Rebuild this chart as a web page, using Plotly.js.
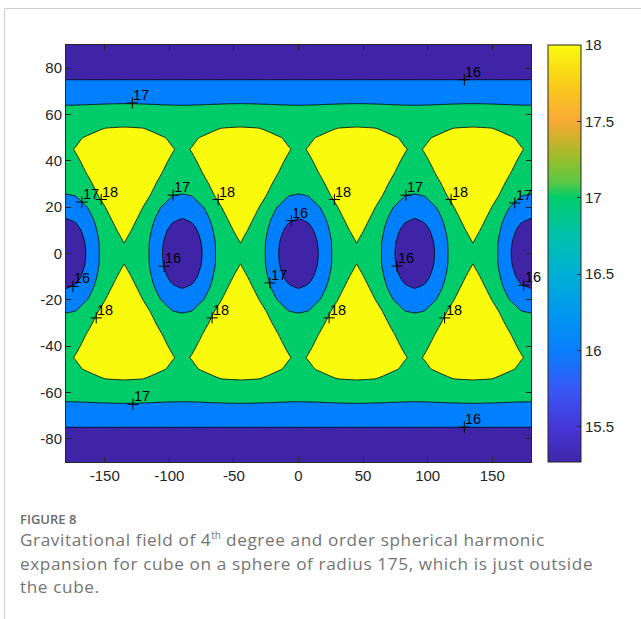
<!DOCTYPE html>
<html>
<head>
<meta charset="utf-8">
<script src="https://cdn.plot.ly/plotly-3.0.1.min.js"></script>
<style>
html,body{margin:0;padding:0;background:#fff;}
#wrap{position:relative;width:641px;height:619px;overflow:hidden;background:#fff;}
#plot{position:absolute;left:0;top:0;width:641px;height:619px;}
.ft{position:absolute;left:4px;top:8px;width:640px;height:0;border-top:1px solid #cdcdcd;z-index:5;}
.fl{position:absolute;left:4px;top:8px;width:0;height:620px;border-left:1px solid #cdcdcd;z-index:5;}
#fig{position:absolute;left:20px;top:510px;font-family:"Open Sans",sans-serif;font-size:13px;font-weight:600;color:#6a6a6a;z-index:5;white-space:nowrap;}
.cap{position:absolute;left:20px;font-family:"Open Sans",sans-serif;font-size:17.2px;line-height:23.5px;letter-spacing:0.6px;color:#747474;z-index:5;white-space:nowrap;}
.cap sup{font-size:10px;line-height:0;letter-spacing:0;}
</style>
</head>
<body>
<div id="wrap">
  <div id="plot"></div>
  <div class="ft"></div>
  <div class="fl"></div>
  <div id="fig">FIGURE 8</div>
  <div class="cap" style="top:528px;">Gravitational field of 4<sup>th</sup> degree and order spherical harmonic</div>
  <div class="cap" style="top:551.5px;">expansion for cube on a sphere of radius 175, which is just outside</div>
  <div class="cap" style="top:575px;">the cube.</div>
</div>
<script>
// Longitude nodes (deg)
const lon = [-180,-172.5,-165,-157.5,-150,-142.5,-135,-127.5,-120,-112.5,-105,-97.5,
  -90,-82.5,-75,-67.5,-60,-52.5,-45,-37.5,-30,-22.5,-15,-7.5,
  0,7.5,15,22.5,30,37.5,45,52.5,60,67.5,75,82.5,
  90,97.5,105,112.5,120,127.5,135,142.5,150,157.5,165,172.5,180];
// Latitude nodes (deg)
const lat = [-90,-80,-70,-60,-55,-50,-45,-40,-35,-30,-25,-20,-15,-10,-5,0,5,10,15,20,25,30,35,40,45,50,55,60,70,80,90];

// Field values read along each latitude row (same at +lat and -lat)
const row0  = [15.30,15.65,15.97,16.68,17.42,17.77,17.92,17.77,17.42,16.68,15.97,15.65,15.30,15.65,15.97,16.68,17.42,17.77,17.92,17.77,17.42,16.68,15.97,15.65,15.30,15.65,15.97,16.68,17.42,17.77,17.92,17.77,17.42,16.68,15.97,15.65,15.30,15.65,15.97,16.68,17.42,17.77,17.92,17.77,17.42,16.68,15.97,15.65,15.30];
const row5  = [15.53,15.72,16.02,16.73,17.40,17.86,18.01,17.86,17.40,16.73,16.02,15.72,15.53,15.72,16.02,16.73,17.40,17.86,18.01,17.86,17.40,16.73,16.02,15.72,15.53,15.72,16.02,16.73,17.40,17.86,18.01,17.86,17.40,16.73,16.02,15.72,15.53,15.72,16.02,16.73,17.40,17.86,18.01,17.86,17.40,16.73,16.02,15.72,15.53];
const row10 = [15.76,15.82,16.15,16.87,17.60,17.96,18.11,17.96,17.60,16.87,16.15,15.82,15.76,15.82,16.15,16.87,17.60,17.96,18.11,17.96,17.60,16.87,16.15,15.82,15.76,15.82,16.15,16.87,17.60,17.96,18.11,17.96,17.60,16.87,16.15,15.82,15.76,15.82,16.15,16.87,17.60,17.96,18.11,17.96,17.60,16.87,16.15,15.82,15.76];
const row15 = [15.99,16.10,16.56,17.10,17.90,18.05,18.20,18.05,17.90,17.10,16.56,16.10,15.99,16.10,16.56,17.10,17.90,18.05,18.20,18.05,17.90,17.10,16.56,16.10,15.99,16.10,16.56,17.10,17.90,18.05,18.20,18.05,17.90,17.10,16.56,16.10,15.99,16.10,16.56,17.10,17.90,18.05,18.20,18.05,17.90,17.10,16.56,16.10,15.99];
const row20 = [16.44,16.57,16.91,17.35,17.99,18.15,18.30,18.15,17.99,17.35,16.91,16.57,16.44,16.57,16.91,17.35,17.99,18.15,18.30,18.15,17.99,17.35,16.91,16.57,16.44,16.57,16.91,17.35,17.99,18.15,18.30,18.15,17.99,17.35,16.91,16.57,16.44,16.57,16.91,17.35,17.99,18.15,18.30,18.15,17.99,17.35,16.91,16.57,16.44];
const row25 = [16.91,17.02,17.47,17.95,18.10,18.25,18.40,18.25,18.10,17.95,17.47,17.02,16.91,17.02,17.47,17.95,18.10,18.25,18.40,18.25,18.10,17.95,17.47,17.02,16.91,17.02,17.47,17.95,18.10,18.25,18.40,18.25,18.10,17.95,17.47,17.02,16.91,17.02,17.47,17.95,18.10,18.25,18.40,18.25,18.10,17.95,17.47,17.02,16.91];
const row30 = [17.59,17.74,17.89,18.04,18.19,18.34,18.49,18.34,18.19,18.04,17.89,17.74,17.59,17.74,17.89,18.04,18.19,18.34,18.49,18.34,18.19,18.04,17.89,17.74,17.59,17.74,17.89,18.04,18.19,18.34,18.49,18.34,18.19,18.04,17.89,17.74,17.59,17.74,17.89,18.04,18.19,18.34,18.49,18.34,18.19,18.04,17.89,17.74,17.59];
const row35 = [17.69,17.84,17.99,18.14,18.29,18.44,18.59,18.44,18.29,18.14,17.99,17.84,17.69,17.84,17.99,18.14,18.29,18.44,18.59,18.44,18.29,18.14,17.99,17.84,17.69,17.84,17.99,18.14,18.29,18.44,18.59,18.44,18.29,18.14,17.99,17.84,17.69,17.84,17.99,18.14,18.29,18.44,18.59,18.44,18.29,18.14,17.99,17.84,17.69];
const row40 = [17.78,17.93,18.08,18.23,18.38,18.53,18.68,18.53,18.38,18.23,18.08,17.93,17.78,17.93,18.08,18.23,18.38,18.53,18.68,18.53,18.38,18.23,18.08,17.93,17.78,17.93,18.08,18.23,18.38,18.53,18.68,18.53,18.38,18.23,18.08,17.93,17.78,17.93,18.08,18.23,18.38,18.53,18.68,18.53,18.38,18.23,18.08,17.93,17.78];
const row45 = [17.88,18.03,18.18,18.33,18.48,18.63,18.78,18.63,18.48,18.33,18.18,18.03,17.88,18.03,18.18,18.33,18.48,18.63,18.78,18.63,18.48,18.33,18.18,18.03,17.88,18.03,18.18,18.33,18.48,18.63,18.78,18.63,18.48,18.33,18.18,18.03,17.88,18.03,18.18,18.33,18.48,18.63,18.78,18.63,18.48,18.33,18.18,18.03,17.88];
const row50 = [17.74,17.89,18.04,18.19,18.34,18.49,18.64,18.49,18.34,18.19,18.04,17.89,17.74,17.89,18.04,18.19,18.34,18.49,18.64,18.49,18.34,18.19,18.04,17.89,17.74,17.89,18.04,18.19,18.34,18.49,18.64,18.49,18.34,18.19,18.04,17.89,17.74,17.89,18.04,18.19,18.34,18.49,18.64,18.49,18.34,18.19,18.04,17.89,17.74];
const row55 = [17.50,17.50,17.64,17.79,17.92,17.93,17.94,17.93,17.92,17.79,17.64,17.50,17.50,17.50,17.64,17.79,17.92,17.93,17.94,17.93,17.92,17.79,17.64,17.50,17.50,17.50,17.64,17.79,17.92,17.93,17.94,17.93,17.92,17.79,17.64,17.50,17.50,17.50,17.64,17.79,17.92,17.93,17.94,17.93,17.92,17.79,17.64,17.50,17.50];
const row60 = [17.33,17.34,17.36,17.39,17.41,17.43,17.44,17.43,17.41,17.39,17.36,17.34,17.33,17.34,17.36,17.39,17.41,17.43,17.44,17.43,17.41,17.39,17.36,17.34,17.33,17.34,17.36,17.39,17.41,17.43,17.44,17.43,17.41,17.39,17.36,17.34,17.33,17.34,17.36,17.39,17.41,17.43,17.44,17.43,17.41,17.39,17.36,17.34,17.33];
const row70 = [16.50,16.50,16.50,16.50,16.50,16.50,16.50,16.50,16.50,16.50,16.50,16.50,16.50,16.50,16.50,16.50,16.50,16.50,16.50,16.50,16.50,16.50,16.50,16.50,16.50,16.50,16.50,16.50,16.50,16.50,16.50,16.50,16.50,16.50,16.50,16.50,16.50,16.50,16.50,16.50,16.50,16.50,16.50,16.50,16.50,16.50,16.50,16.50,16.50];
const row80 = [15.50,15.50,15.50,15.50,15.50,15.50,15.50,15.50,15.50,15.50,15.50,15.50,15.50,15.50,15.50,15.50,15.50,15.50,15.50,15.50,15.50,15.50,15.50,15.50,15.50,15.50,15.50,15.50,15.50,15.50,15.50,15.50,15.50,15.50,15.50,15.50,15.50,15.50,15.50,15.50,15.50,15.50,15.50,15.50,15.50,15.50,15.50,15.50,15.50];
const row90 = [15.30,15.30,15.30,15.30,15.30,15.30,15.30,15.30,15.30,15.30,15.30,15.30,15.30,15.30,15.30,15.30,15.30,15.30,15.30,15.30,15.30,15.30,15.30,15.30,15.30,15.30,15.30,15.30,15.30,15.30,15.30,15.30,15.30,15.30,15.30,15.30,15.30,15.30,15.30,15.30,15.30,15.30,15.30,15.30,15.30,15.30,15.30,15.30,15.30];

// Contour labels (clabel "+" markers)
const labelLon  = [-128.6,-167.7,-152.7,-97.1,-62.2,-5.5,-104.1,128.4,27.8,83.2,118.1,167.4,76.2,-174.7,-22.1,-156.6,-66.9,-128.2,174.4,23.7,113.1,128.4];
const labelLat  = [65.0,22.2,23.3,25.2,23.3,14.2,-5.5,75.0,23.3,25.2,23.3,21.8,-5.4,-14.2,-12.7,-27.8,-27.8,-65.1,-13.7,-27.8,-27.8,-74.9];
const labelText = ["17","17","18","17","18","16","16","16","18","17","18","17","16","16","17","18","18","17","16","18","18","16"];

const levels = {start:16, end:18, size:1};
const xTicks = [-150,-100,-50,0,50,100,150];
const yTicks = [-80,-60,-40,-20,0,20,40,60,80];
const cbTicks = [15.5,16,16.5,17,17.5,18];

// table built from the rows
const z = [row90,row80,row70,row60,row55,row50,row45,row40,row35,row30,row25,row20,row15,row10,row5,
           row0,row5,row10,row15,row20,row25,row30,row35,row40,row45,row50,row55,row60,row70,row80,row90];

const cPurple='rgb(64,36,168)', cBlue='rgb(0,128,255)', cGreen='rgb(0,204,106)', cYellow='rgb(249,250,12)';
const fillScale = [[0,cPurple],[0.1667,cPurple],[0.1667,cBlue],[0.5,cBlue],[0.5,cGreen],[0.8333,cGreen],[0.8333,cYellow],[1,cYellow]];
const barScale = [
  [0,'rgb(62,38,168)'],[0.084,'rgb(70,54,215)'],[0.176,'rgb(55,88,246)'],[0.267,'rgb(8,126,252)'],
  [0.359,'rgb(0,152,238)'],[0.451,'rgb(0,176,212)'],[0.542,'rgb(0,193,172)'],[0.634,'rgb(0,205,108)'],
  [0.67,'rgb(90,200,70)'],[0.725,'rgb(150,190,45)'],[0.78,'rgb(212,176,42)'],[0.817,'rgb(248,170,55)'],
  [0.908,'rgb(250,205,25)'],[1,'rgb(249,251,14)']];

const ink = '#262626';
const fontFam = 'Liberation Sans, Arial, sans-serif';
const traces = [
  {type:'heatmap', x:lon, y:lat, z:z, zmin:15.27, zmax:18, colorscale:barScale, hoverinfo:'skip',
   showscale:true,
   colorbar:{x:1.0355, xanchor:'left', xpad:0, ypad:0, y:0.5, yanchor:'middle', len:1, lenmode:'fraction',
     thickness:33, outlinewidth:1, outlinecolor:ink, tickvals:cbTicks, ticktext:cbTicks.map(String),
     ticks:'inside', ticklen:4, tickcolor:ink, tickfont:{family:fontFam, size:15, color:ink}}},
  {type:'contour', x:lon, y:lat, z:z, autocontour:false, contours:{start:levels.start, end:levels.end, size:levels.size, coloring:'fill'},
   colorscale:fillScale, showscale:false, line:{color:'#000', width:0.8, smoothing:0.6}, hoverinfo:'skip'},
  {type:'scatter', mode:'markers', x:labelLon, y:labelLat, cliponaxis:false,
   marker:{symbol:'cross-thin', size:8, color:'#000', line:{color:'#000', width:1}},
   hoverinfo:'skip', showlegend:false}
];

const annotations = labelText.map((t, i) => ({
  x: labelLon[i], y: labelLat[i], xref:'x', yref:'y', text:t, showarrow:false,
  xanchor:'left', yanchor:'bottom', xshift:0, yshift:-1, borderpad:0,
  font:{family:fontFam, size:14.5, color:'#000'}
}));

const layout = {
  width:641, height:619,
  margin:{l:66, r:110, t:45, b:157},
  paper_bgcolor:'#fff', plot_bgcolor:'#fff',
  font:{family:fontFam, size:15, color:ink},
  showlegend:false,
  annotations: annotations,
  xaxis:{range:[-180,180], tickvals:xTicks, ticktext:xTicks.map(String), ticks:'inside', ticklen:5, tickcolor:ink,
    mirror:'ticks', showline:true, linecolor:ink, linewidth:1, showgrid:false, zeroline:false,
    tickfont:{size:15, color:ink}},
  yaxis:{range:[-90,90], tickvals:yTicks, ticktext:yTicks.map(String), ticks:'inside', ticklen:5, tickcolor:ink,
    mirror:'ticks', showline:true, linecolor:ink, linewidth:1, showgrid:false, zeroline:false,
    tickfont:{size:15, color:ink}}
};

Plotly.newPlot('plot', traces, layout, {staticPlot:true, displayModeBar:false});
</script>
</body>
</html>
